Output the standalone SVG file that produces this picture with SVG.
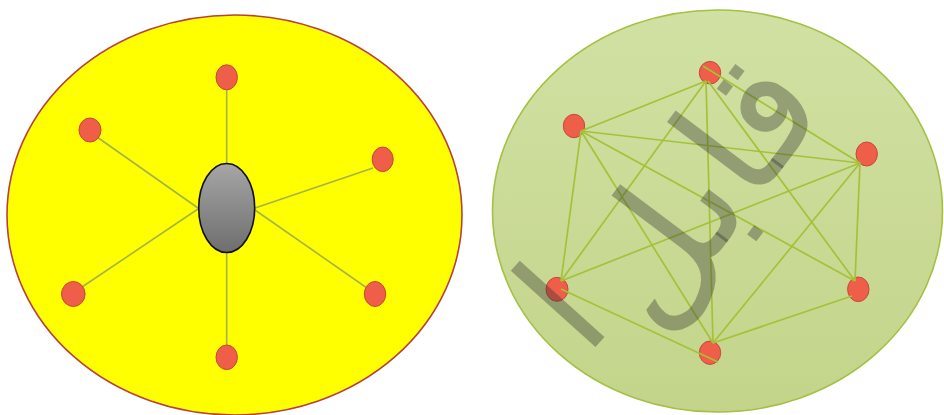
<svg xmlns="http://www.w3.org/2000/svg" width="944" height="415" viewBox="0 0 944 415">
<defs>
<linearGradient id="gGray" x1="0" y1="0" x2="0" y2="1">
<stop offset="0" stop-color="#a6a6a6"/>
<stop offset="1" stop-color="#6e6e6e"/>
</linearGradient>
<linearGradient id="gGreen" x1="0" y1="0" x2="0" y2="1">
<stop offset="0" stop-color="#d1e1a3"/>
<stop offset="1" stop-color="#c3d48a"/>
</linearGradient>
</defs>
<style>
.node{fill:#ee5e48;stroke:#c4493b;stroke-width:1}
.lineY{stroke:#a2b448;stroke-width:1.6;fill:none}
.lineG{stroke:#a3c23a;stroke-width:1.7;fill:none}
.wm{font-family:"DejaVu Sans",sans-serif;fill:#2e2e2e;fill-opacity:0.36}
</style>
<g id="star-network">
<ellipse cx="234.5" cy="215" rx="227.5" ry="200" fill="#ffff00" stroke="#b8413d" stroke-width="1.6"/>
</g>
<g id="mesh-network">
<ellipse cx="717.5" cy="211" rx="225" ry="201" fill="url(#gGreen)" stroke="#a5c043" stroke-width="1.6"/>
</g>
<g id="connectors">
<line class="lineY" x1="226.7" y1="90" x2="226.7" y2="164"/>
<line class="lineY" x1="97" y1="137" x2="198" y2="208"/>
<line class="lineY" x1="373" y1="168" x2="255" y2="208"/>
<line class="lineY" x1="82" y1="287" x2="198" y2="209"/>
<line class="lineY" x1="367" y1="288" x2="255" y2="210"/>
<line class="lineY" x1="226.7" y1="252" x2="226.7" y2="346"/>
</g>
<g id="hub"><ellipse cx="226.7" cy="208" rx="28" ry="44.5" fill="url(#gGray)" stroke="#111" stroke-width="1.6"/></g>
<g id="y-top"><ellipse class="node" cx="226.7" cy="77.3" rx="10.7" ry="12.5"/></g>
<g id="y-upper-left"><ellipse class="node" cx="90" cy="130" rx="11" ry="12"/></g>
<g id="y-right"><ellipse class="node" cx="382.7" cy="159.3" rx="10.5" ry="12.3"/></g>
<g id="y-lower-left"><ellipse class="node" cx="73.3" cy="294" rx="11.8" ry="12.5"/></g>
<g id="y-lower-right"><ellipse class="node" cx="375" cy="294" rx="10.7" ry="12.5"/></g>
<g id="y-bottom"><ellipse class="node" cx="226.7" cy="357.3" rx="10.7" ry="12.3"/></g>

<g id="g-top"><ellipse class="node" cx="710" cy="72.7" rx="10.7" ry="11.3"/></g>
<g id="g-upper-left"><ellipse class="node" cx="574" cy="126" rx="10.7" ry="11.7"/></g>
<g id="g-right"><ellipse class="node" cx="866.7" cy="154" rx="10.7" ry="12"/></g>
<g id="g-lower-left"><ellipse class="node" cx="557" cy="289.3" rx="11" ry="12"/></g>
<g id="g-lower-right"><ellipse class="node" cx="858.3" cy="289.3" rx="10.7" ry="12.3"/></g>
<g id="g-bottom"><ellipse class="node" cx="710" cy="352.7" rx="10.7" ry="11.7"/></g>

<g id="mesh-connectors">
<line class="lineG" x1="703" y1="66" x2="860" y2="163"/>
<line class="lineG" x1="706" y1="81" x2="581" y2="131"/>
<line class="lineG" x1="706" y1="81" x2="561" y2="281"/>
<line class="lineG" x1="706" y1="81" x2="713" y2="343"/>
<line class="lineG" x1="708" y1="81" x2="855" y2="281"/>
<line class="lineG" x1="581" y1="131" x2="860" y2="163"/>
<line class="lineG" x1="581" y1="131" x2="561" y2="281"/>
<line class="lineG" x1="581" y1="131" x2="713" y2="343"/>
<line class="lineG" x1="581" y1="131" x2="855" y2="281"/>
<line class="lineG" x1="860" y1="163" x2="561" y2="281"/>
<line class="lineG" x1="860" y1="163" x2="713" y2="343"/>
<line class="lineG" x1="860" y1="163" x2="855" y2="281"/>
<line class="lineG" x1="561" y1="289" x2="718" y2="362"/>
<line class="lineG" x1="852" y1="296" x2="713" y2="343"/>
</g>

<g id="watermark">
<text class="wm" font-size="158" text-anchor="middle" transform="translate(742,222) rotate(-53)">قابل</text>
<text class="wm" font-size="150" text-anchor="middle" transform="translate(600,342) rotate(-48)">ا</text>
</g>
</svg>
